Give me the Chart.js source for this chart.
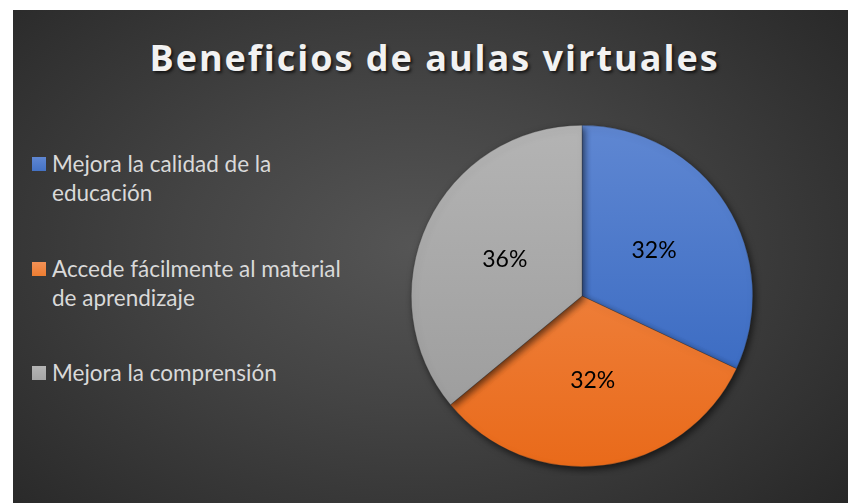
<!DOCTYPE html>
<html lang="es">
<head>
  <meta charset="UTF-8">
  <title>Beneficios de aulas virtuales</title>
  <script src="https://cdn.jsdelivr.net/npm/chart.js"></script>
  <style>
    html, body {
      margin: 0;
      padding: 0;
      background: #ffffff;
      width: 849px;
      height: 503px;
      overflow: hidden;
    }

    #panel {
      position: absolute;
      left: 13px;
      top: 10px;
      width: 835px;
      height: 493px;
      background: radial-gradient(ellipse 70% 80% at 48% 48%, #555555 0%, #444444 40%, #272727 100%);
      overflow: hidden;
    }

    #title {
      position: absolute;
      left: 0;
      top: 23px;
      width: 843px;
      text-align: center;
      font-family: 'Open Sans', sans-serif;
      font-weight: bold;
      font-size: 36px;
      letter-spacing: 2px;
      color: #f2f2f2;
      text-shadow: 2px 2px 3px rgba(0, 0, 0, 0.65);
    }

    .item {
      position: absolute;
      left: 19px;
      font-family: 'Lato', sans-serif;
      font-size: 22.5px;
      line-height: 29px;
      color: #d9d9d9;
      padding-left: 20px;
    }

    .item span.box {
      position: absolute;
      left: 0;
      top: 8px;
      width: 14px;
      height: 14px;
    }

    #pieBox {
      position: absolute;
      left: 389px;
      top: 106px;
      width: 360px;
      height: 360px;
    }
  </style>
</head>
<body>
  <div id="panel">
    <div id="title">Beneficios de aulas virtuales</div>
    <div id="legend"></div>
    <div id="pieBox"><canvas id="myChart"></canvas></div>
  </div>

  <script>
    const chartTitle = 'Beneficios de aulas virtuales';
    const categories = [
      ['Mejora la calidad de la', 'educación'],
      ['Accede fácilmente al material', 'de aprendizaje'],
      ['Mejora la comprensión']
    ];
    const values = [32, 32, 36];
    const topColors = ['#5f87d2', '#f39156', '#b4b4b4'];
    const bottomColors = ['#2f62bd', '#e96a1a', '#999999'];
    const legendColors = ['#4472c4', '#ed7d31', '#a5a5a5'];

    // html legend, one block per category
    const legend = document.getElementById('legend');
    categories.forEach((lines, i) => {
      const div = document.createElement('div');
      div.className = 'item';
      div.style.top = (139 + i * 104.5) + 'px';
      const box = document.createElement('span');
      box.className = 'box';
      box.style.background = 'linear-gradient(' + topColors[i] + ', ' + legendColors[i] + ')';
      div.appendChild(box);
      div.appendChild(document.createTextNode(lines[0]));
      for (let k = 1; k < lines.length; k++) {
        div.appendChild(document.createElement('br'));
        div.appendChild(document.createTextNode(lines[k]));
      }
      legend.appendChild(div);
    });

    function sliceFill(context) {
      const chart = context.chart;
      const area = chart.chartArea;
      if (!area) return legendColors[context.dataIndex];
      const g = chart.ctx.createLinearGradient(0, area.top, 0, area.bottom);
      g.addColorStop(0, topColors[context.dataIndex]);
      g.addColorStop(1, bottomColors[context.dataIndex]);
      return g;
    }

    const shadowPlugin = {
      id: 'pieShadow',
      beforeDatasetsDraw(chart) {
        const ctx = chart.ctx;
        ctx.save();
        ctx.shadowColor = 'rgba(0, 0, 0, 0.6)';
        ctx.shadowBlur = 7;
        ctx.shadowOffsetX = 2;
        ctx.shadowOffsetY = 3;
      },
      afterDatasetsDraw(chart) {
        chart.ctx.restore();
      }
    };

    const percentLabels = {
      id: 'percentLabels',
      afterDraw(chart) {
        const ctx = chart.ctx;
        const data = chart.data.datasets[0].data;
        const total = data.reduce((a, b) => a + b, 0);
        ctx.save();
        ctx.font = '23px Lato, sans-serif';
        ctx.fillStyle = '#000000';
        ctx.textAlign = 'center';
        ctx.textBaseline = 'middle';
        chart.getDatasetMeta(0).data.forEach((arc, i) => {
          const p = arc.tooltipPosition();
          ctx.fillText(Math.round(data[i] / total * 100) + '%', p.x, p.y);
        });
        ctx.restore();
      }
    };

    new Chart(document.getElementById('myChart'), {
      type: 'pie',
      data: {
        labels: categories,
        datasets: [{
          data: values,
          backgroundColor: sliceFill,
          borderColor: 'rgba(50, 50, 50, 0.5)',
          borderWidth: 0.6
        }]
      },
      options: {
        responsive: true,
        maintainAspectRatio: false,
        animation: false,
        layout: { padding: 9 },
        plugins: {
          legend: { display: false },
          title: { display: false },
          tooltip: { enabled: false }
        }
      },
      plugins: [shadowPlugin, percentLabels]
    });
  </script>
</body>
</html>
